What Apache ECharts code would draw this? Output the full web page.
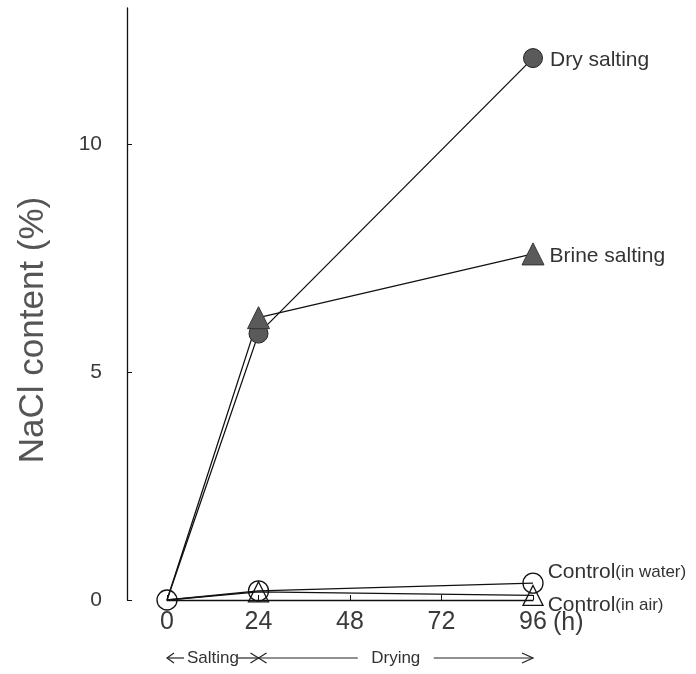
<!DOCTYPE html>
<html>
<head>
<meta charset="utf-8">
<script src="https://cdn.jsdelivr.net/npm/echarts@6/dist/echarts.min.js"></script>
<style>html,body{margin:0;padding:0;background:#fff}#c{width:696px;height:674px}</style>
</head>
<body>
<div id="c"></div>
<script>
// ---- data ----
const hours = [0, 24, 96];
const drySalting = [0, 5.85, 11.9];
const brineSalting = [0, 6.2, 7.6];
const controlWater = [0, 0.2, 0.37];
const controlAir = [0, 0.18, 0.1];
const xTickValues = [0, 24, 48, 72, 96];
const yTickValues = [0, 5, 10];
const seriesNames = ['Dry salting', 'Brine salting', 'Control(in water)', 'Control(in air)'];

const FONT = '"Liberation Sans", Arial, sans-serif';
const chart = echarts.init(document.getElementById('c'), null, {renderer: 'canvas'});

function pts(vals, hideFirst) {
  return hours.map((h, i) => {
    const item = {value: [h, vals[i]]};
    if (hideFirst && i === 0) item.symbol = 'none';
    return item;
  });
}
function lastLabel(item, label) {
  return item.map((d, i) => i === item.length - 1 ? Object.assign({}, d, {label: label}) : d);
}

const lineStyle = {color: '#111', width: 1.3};
const baseLabel = {show: true, position: 'right', fontFamily: FONT, color: '#333'};

const option = {
  animation: false,
  grid: {left: 167, right: 163, top: 8, bottom: 74, containLabel: false},
  xAxis: {
    type: 'value', min: 0, max: 96, interval: 24,
    axisLine: {show: true, onZero: false, lineStyle: {color: '#111', width: 1.3}},
    axisTick: {show: true, inside: true, length: 5, lineStyle: {color: '#111'}},
    splitLine: {show: false},
    axisLabel: {color: '#3a3a3a', fontSize: 25, fontFamily: FONT, margin: 10,
      customValues: xTickValues}
  },
  yAxis: {
    type: 'value', min: 0, max: 13, interval: 5, offset: 40,
    name: 'NaCl content (%)', nameLocation: 'middle', nameGap: 76,
    nameTextStyle: {fontSize: 35, color: '#555', fontFamily: FONT, padding: [0, 52, 0, 0]},
    axisLine: {show: true, onZero: false, lineStyle: {color: '#111', width: 1.3}},
    axisTick: {show: true, inside: true, length: 5, lineStyle: {color: '#111'}, customValues: yTickValues},
    splitLine: {show: false},
    axisLabel: {color: '#3a3a3a', fontSize: 21, fontFamily: FONT, margin: 25, customValues: yTickValues}
  },
  series: [
    {
      name: seriesNames[0], type: 'line', symbol: 'circle', symbolSize: 19,
      itemStyle: {color: '#5a5a5a', borderColor: '#222', borderWidth: 1},
      lineStyle: lineStyle, z: 3,
      data: lastLabel(pts(drySalting, true), Object.assign({}, baseLabel, {fontSize: 21, distance: 7, offset: [0, 2], formatter: seriesNames[0]})),
      label: {show: false}
    },
    {
      name: seriesNames[1], type: 'line', symbol: 'triangle', symbolSize: 22,
      itemStyle: {color: '#5a5a5a', borderColor: '#333', borderWidth: 1},
      lineStyle: lineStyle, z: 3,
      data: lastLabel(pts(brineSalting, true), Object.assign({}, baseLabel, {fontSize: 21, distance: 5, offset: [0, 2], formatter: seriesNames[1]})),
      label: {show: false}
    },
    {
      name: seriesNames[3], type: 'line', symbol: 'triangle', symbolSize: 20,
      itemStyle: {color: 'rgba(255,255,255,0)', borderColor: '#111', borderWidth: 1.3},
      lineStyle: lineStyle, z: 4,
      data: lastLabel(pts(controlAir, true), Object.assign({}, baseLabel, {distance: 4, offset: [0, 10],
        formatter: '{a|Control}{b|(in air)}',
        rich: {a: {fontSize: 21, fontFamily: FONT, color: '#333'}, b: {fontSize: 17, fontFamily: FONT, color: '#333'}}})),
      label: {show: false}
    },
    {
      name: seriesNames[2], type: 'line', symbol: 'circle', symbolSize: 20,
      itemStyle: {color: 'rgba(255,255,255,0)', borderColor: '#111', borderWidth: 1.3},
      lineStyle: lineStyle, z: 5,
      data: lastLabel(pts(controlWater, false), Object.assign({}, baseLabel, {distance: 4, offset: [0, -11],
        formatter: '{a|Control}{b|(in water)}',
        rich: {a: {fontSize: 21, fontFamily: FONT, color: '#333'}, b: {fontSize: 17, fontFamily: FONT, color: '#333'}}})),
      label: {show: false}
    }
  ]
};
chart.setOption(option);

// ---- annotations positioned via the axis scale ----
const p0 = chart.convertToPixel({gridIndex: 0}, [0, 0]);
const p24 = chart.convertToPixel({gridIndex: 0}, [24, 0]);
const p96 = chart.convertToPixel({gridIndex: 0}, [96, 0]);
const yb = p0[1] + 58;
const ln = {stroke: '#222', lineWidth: 1.2};
const mid = (p24[0] + p96[0]) / 2;
chart.setOption({
  graphic: [
    {type: 'text', x: p96[0] + 20, y: p0[1] + 23, style: {text: '(h)', font: '25px ' + FONT, fill: '#3a3a3a', verticalAlign: 'middle'}},
    // left arrow
    {type: 'polyline', shape: {points: [[p0[0] + 7, yb - 5], [p0[0], yb], [p0[0] + 7, yb + 5]]}, style: Object.assign({fill: 'none'}, ln)},
    {type: 'line', shape: {x1: p0[0], y1: yb, x2: p0[0] + 17, y2: yb}, style: ln},
    {type: 'text', x: p0[0] + 20, y: yb, style: {text: 'Salting', font: '17px ' + FONT, fill: '#333', verticalAlign: 'middle'}},
    {type: 'line', shape: {x1: p0[0] + 71, y1: yb, x2: p24[0], y2: yb}, style: ln},
    {type: 'line', shape: {x1: p24[0] - 8, y1: yb - 5, x2: p24[0] + 8, y2: yb + 5}, style: ln},
    {type: 'line', shape: {x1: p24[0] - 8, y1: yb + 5, x2: p24[0] + 8, y2: yb - 5}, style: ln},
    {type: 'line', shape: {x1: p24[0], y1: yb, x2: mid - 38, y2: yb}, style: ln},
    {type: 'text', x: mid, y: yb, style: {text: 'Drying', font: '17px ' + FONT, fill: '#333', align: 'center', verticalAlign: 'middle'}},
    {type: 'line', shape: {x1: mid + 38, y1: yb, x2: p96[0], y2: yb}, style: ln},
    {type: 'polyline', shape: {points: [[p96[0] - 11, yb - 5], [p96[0], yb], [p96[0] - 11, yb + 5]]}, style: Object.assign({fill: 'none'}, ln)}
  ]
});
</script>
</body>
</html>
